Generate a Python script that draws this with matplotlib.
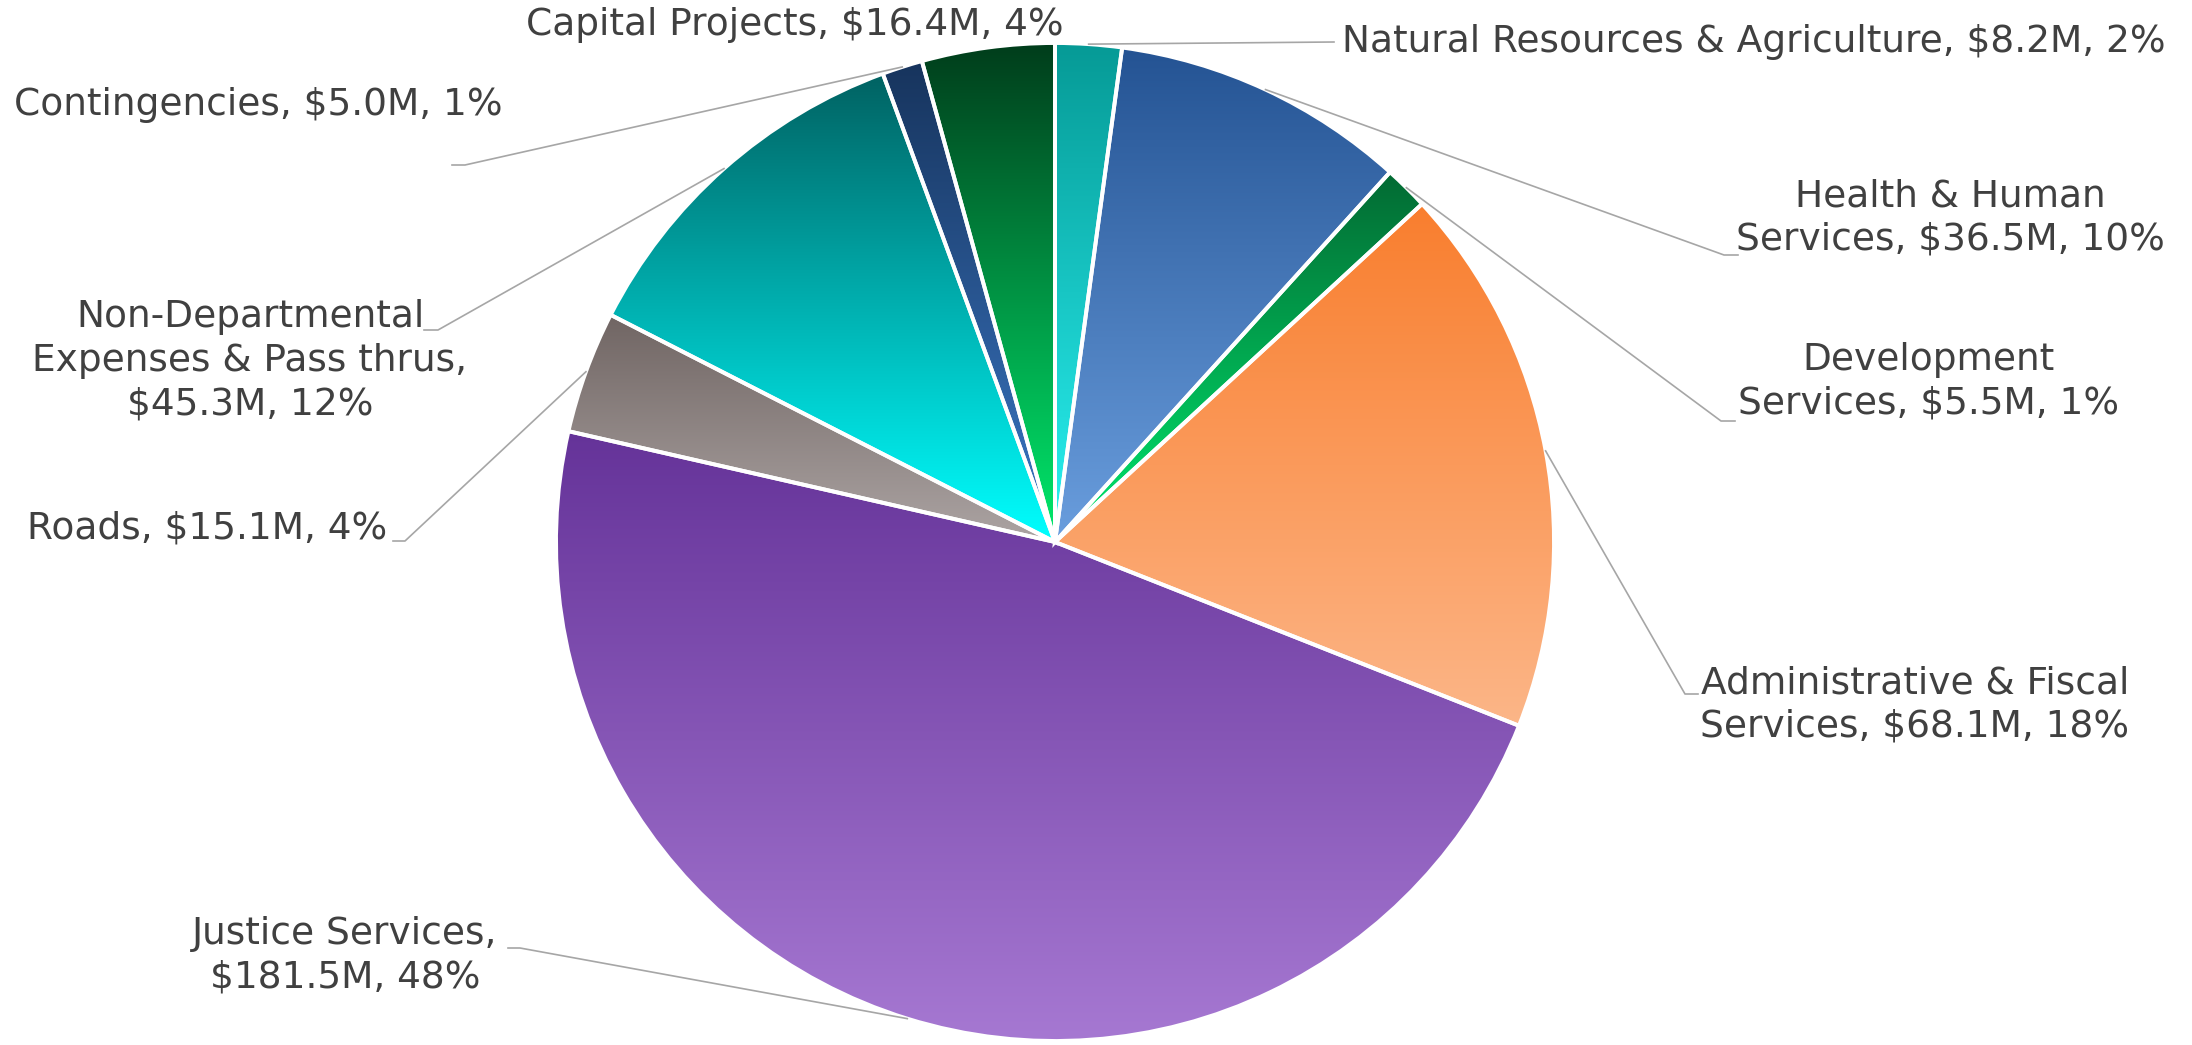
import matplotlib
matplotlib.use("Agg")
import matplotlib.pyplot as plt
import numpy as np
from matplotlib.colors import to_rgb

# budget by service area, $ millions (clockwise from 12 o'clock)
categories = [
    "Natural Resources & Agriculture",
    "Health & Human Services",
    "Development Services",
    "Administrative & Fiscal Services",
    "Justice Services",
    "Roads",
    "Non-Departmental Expenses & Pass thrus",
    "Contingencies",
    "Capital Projects",
]
values = [8.2, 36.5, 5.5, 68.1, 181.5, 15.1, 45.3, 5.0, 16.4]

# gradient colours per slice, top -> bottom
top_colors = ["#069a96", "#245393", "#036a33", "#f97e2e", "#653399",
              "#706563", "#006262", "#17345d", "#013d1b"]
bottom_colors = ["#2af2f2", "#6a9ede", "#00e86e", "#fcb688", "#a678d2",
                 "#aca4a3", "#00ffff", "#3b78c6", "#00ea6c"]

W, H = 2192, 1045
CX, CY, R = 1055, 542, 499          # pie centre/radius in px (y down)
TEXT = "#404040"
LEADER = "#a6a6a6"

# label layout: wrapped text, centre (px), leader elbow + end (px)
label_fmt = [
    "Natural Resources & Agriculture, {v}, {p}",
    "Health & Human\nServices, {v}, {p}",
    "Development\nServices, {v}, {p}",
    "Administrative & Fiscal\nServices, {v}, {p}",
    "Justice Services,\n{v}, {p}",
    "Roads, {v}, {p}",
    "Non-Departmental\nExpenses & Pass thrus,\n{v}, {p}",
    "Contingencies, {v}, {p}",
    "Capital Projects, {v}, {p}",
]
label_pos = [
    (1342, 42, "left"), (1950, 218, "center"), (1929, 382, "center"),
    (1915, 705, "center"), (345, 956, "center"), (387, 528, "right"),
    (250, 361, "center"), (14, 105, "left"), (795, 25, "center"),
]
leaders = [
    [(1334, 42)],
    [(1724, 255), (1738, 255)],
    [(1721, 421), (1735, 421)],
    [(1685, 694), (1698, 694)],
    [(520, 948), (508, 948)],
    [(405, 541), (393, 541)],
    [(438, 330), (424, 330)],
    [(465, 165), (452, 165)],
    None,
]


def flip(x, y):
    return x, H - y


fig = plt.figure(figsize=(W / 100, H / 100), dpi=100)
ax = fig.add_axes([0, 0, 1, 1])

wedges, _ = ax.pie(
    values,
    startangle=90,
    counterclock=False,
    center=flip(CX, CY),
    radius=R,
    wedgeprops=dict(facecolor="none", edgecolor="white", linewidth=2.8),
)

total = sum(values)
for i, w in enumerate(wedges):
    # vertical gradient over the slice's own bounding box
    ext = w.get_path().get_extents()
    c0 = np.array(to_rgb(top_colors[i]))
    c1 = np.array(to_rgb(bottom_colors[i]))
    t = np.linspace(0, 1, 256)[:, None, None]
    grad = c0 * (1 - t) + c1 * t
    im = ax.imshow(grad, extent=(ext.x0, ext.x1, ext.y0, ext.y1),
                   aspect="auto", interpolation="bilinear", zorder=0)
    im.set_clip_path(w)
    w.set_zorder(2)

    pct = round(values[i] / total * 100)
    txt = label_fmt[i].format(v=f"${values[i]:.1f}M", p=f"{pct}%")
    lx, ly, ha = label_pos[i]
    ax.text(*flip(lx, ly), txt, ha=ha, va="center", fontsize=27,
            color=TEXT, linespacing=1.28, zorder=4)

    if leaders[i] is not None:
        mid = np.deg2rad((w.theta1 + w.theta2) / 2)
        sx = w.center[0] + w.r * np.cos(mid)
        sy = w.center[1] + w.r * np.sin(mid)
        pts = [(sx, sy)] + [flip(x, y) for x, y in leaders[i]]
        xs, ys = zip(*pts)
        ax.plot(xs, ys, color=LEADER, linewidth=1.2, zorder=3)

ax.set_xlim(0, W)
ax.set_ylim(0, H)
ax.set_aspect("equal")
ax.axis("off")

fig.savefig("out.png", dpi=100, facecolor="white")
